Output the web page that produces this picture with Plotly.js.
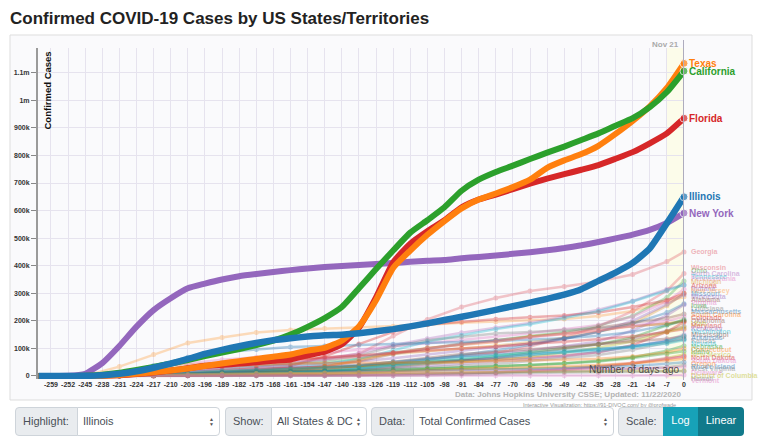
<!DOCTYPE html>
<html><head><meta charset="utf-8">
<script src="https://cdn.plot.ly/plotly-3.0.1.min.js"></script>
<style>
body{margin:0;background:#fff;}
#wrap{position:relative;width:760px;height:439px;overflow:hidden;}
#chart{position:absolute;left:0;top:0;width:760px;height:439px;}
.ctl{position:absolute;top:407px;height:29px;box-sizing:border-box;font-family:'Liberation Sans',Arial,sans-serif;font-size:11px;color:#495057;line-height:27px;white-space:nowrap;}
.lab{background:#e9ecef;border:1px solid #ced4da;border-radius:4px 0 0 4px;padding-left:7px;}
.sel{background:#fff;border:1px solid #ced4da;border-radius:0 4px 4px 0;padding-left:5px;}
.arr{position:absolute;right:5px;top:9px;font-size:5px;line-height:5px;color:#555;}
.btn{color:#fff;text-align:center;border:none;}
</style>
</head><body>
<div id="wrap">
<div id="chart"></div>
<div class="ctl lab" style="left:15px;width:63px;">Highlight:</div>
<div class="ctl sel" style="left:77px;width:143px;">Illinois<span class="arr">▲<br>▼</span></div>
<div class="ctl lab" style="left:225px;width:47px;">Show:</div>
<div class="ctl sel" style="left:271px;width:96px;">All States &amp; DC<span class="arr">▲<br>▼</span></div>
<div class="ctl lab" style="left:371px;width:43px;">Data:</div>
<div class="ctl sel" style="left:413px;width:201px;">Total Confirmed Cases<span class="arr">▲<br>▼</span></div>
<div class="ctl lab" style="left:618px;width:46px;">Scale:</div>
<div class="ctl btn" style="left:663px;width:35px;background:#17a2b8;">Log</div>
<div class="ctl btn" style="left:698px;width:46px;background:#117a8b;border-radius:0 4px 4px 0;">Linear</div>
</div>
<script>
// ---------- DATA (cases in thousands) ----------
const days = [-264,-259,-252,-245,-238,-231,-224,-217,-210,-203,-196,-189,-182,-175,-168,-161,-154,-147,-140,-133,-126,-119,-112,-105,-98,-91,-84,-77,-70,-63,-56,-49,-42,-35,-28,-21,-14,-7,0];
const texas      = [0,0,0,0.3,1,4,8,14,20,27,36,45,54,62,70,78,92,102,128,180,275,392,455,512,562,608,640,662,685,712,755,782,805,835,878,925,978,1045,1134];
const california = [0,0,0.3,1,5,12,22,33,45,58,72,85,98,112,128,150,178,210,250,318,388,455,520,565,612,672,712,740,763,787,810,832,856,880,908,935,975,1030,1106];
const florida    = [0,0,0,0.3,1,3,7,13,20,28,37,41,45,50,55,60,75,88,115,175,285,412,480,525,565,612,640,658,678,698,716,732,748,765,788,812,844,880,935];
const illinois   = [0,0,0,0.5,3,8,17,30,45,62,80,95,108,120,130,137,143,148,150,155,162,170,180,191,203,215,227,240,253,266,280,295,315,345,375,410,463,554,650];
const newYork    = [0,0,0.6,8,47,109,179,239,282,318,335,350,362,370,377,384,390,395,399,403,406,410,414,418,421,427,432,437,443,449,456,464,474,486,499,513,530,555,591];
const mainNames  = ['New York','Florida','Texas','California','Illinois'];
const mainSeries = [newYork, florida, texas, california, illinois];

const fadedDays = [-264,-245,-231,-217,-203,-189,-175,-161,-147,-133,-119,-105,-91,-77,-63,-49,-35,-21,-7,0];
const georgia      = [0,1,6,17,28,37,45,55,65,80,145,205,250,283,308,325,343,368,415,450];
const newJersey    = [0,1,34,78,120,140,158,167,172,175,180,186,193,197,201,207,218,236,270,287];
const wisconsin    = [0,0,2,4,8,12,18,23,28,36,48,62,73,84,107,140,180,235,310,372];
const ohio         = [0,0,3,12,19,27,35,41,50,63,85,100,114,130,145,160,182,218,285,345];
const michigan     = [0,1,14,31,42,50,56,59,63,70,80,90,99,110,122,138,160,190,255,300];
const northCarolina= [0,0,2,7,12,19,29,45,62,82,112,135,157,175,192,215,240,272,315,330];
const pennsylvania = [0,0,10,31,46,59,68,76,84,95,107,120,132,143,155,170,185,215,270,315];
const arizona      = [0,0,2,4,8,13,20,36,71,116,160,187,197,206,213,219,230,250,275,300];
const tennessee    = [0,0,3,6,11,17,24,32,43,62,93,125,148,170,188,210,235,270,310,330];
const indiana      = [0,0,3,11,20,28,35,40,45,53,64,78,91,105,118,135,160,200,260,295];
const missouri     = [0,0,2,5,8,11,13,17,21,30,43,59,76,93,113,135,160,190,230,262];
const minnesota    = [0,0,1,2,6,15,24,31,35,41,50,63,71,81,92,108,125,165,220,258];
const alabama      = [0,0,1,5,8,13,18,26,35,53,80,100,118,130,142,155,175,193,210,225];
const louisiana    = [0,0,13,23,29,33,39,46,56,74,107,130,143,154,160,167,175,180,190,200];
const massachusetts= [0,0,12,38,68,85,96,105,109,112,115,119,123,127,131,137,146,160,185,200];
const southCarolina= [0,0,2,4,6,8,11,18,34,58,83,102,113,123,143,152,165,180,190,198];
const colorado     = [0,0,5,10,16,22,26,29,32,36,44,51,56,61,66,74,86,112,160,196];
const virginia     = [0,0,2,8,17,31,43,55,62,70,84,100,114,127,140,153,165,182,200,215];
const iowa         = [0,0,1,3,10,15,19,24,29,35,44,52,60,73,87,100,115,140,185,205];
const oklahoma     = [0,0,1,3,4,5,6,8,13,21,33,44,55,66,82,98,115,133,163,180];
const maryland     = [0,0,4,13,25,36,49,61,68,74,84,93,100,106,117,124,133,143,160,170];
const utah         = [0,0,1,3,5,7,9,13,21,31,38,45,52,57,70,85,103,125,160,175];
const kentucky     = [0,0,1,2,5,8,10,13,16,21,28,36,44,53,62,72,87,106,130,150];
const mississippi  = [0,0,1,3,7,11,15,21,27,37,52,67,80,87,96,105,114,125,135,143];
const washington   = [0,1,7,12,15,18,21,25,31,39,51,62,72,77,84,90,98,107,125,145];
const arkansas     = [0,0,1,2,3,4,7,12,18,27,37,49,57,65,76,87,96,108,125,135];
const kansas       = [0,0,0,1,4,7,9,11,15,20,28,31,37,44,54,64,76,95,120,133];
const nevada       = [0,0,1,3,5,7,8,11,16,26,40,52,65,72,78,84,92,104,118,130];
const nebraska     = [0,0,0,1,5,10,13,16,18,20,24,27,30,35,40,46,55,68,92,110];
const connecticut  = [0,0,4,18,30,37,41,45,46,47,48,50,51,54,56,59,63,71,85,100];
const idaho        = [0,0,1,2,2,2,3,3,5,11,19,25,30,36,40,45,53,65,80,90];
const newMexico    = [0,0,1,2,3,6,8,10,12,14,18,22,24,26,27,30,35,45,65,78];
const northDakota  = [0,0,0,0,1,2,2,3,3,4,6,7,10,13,18,23,32,45,62,72];
const southDakota  = [0,0,0,1,2,4,5,6,6,7,8,9,11,14,19,26,35,48,64,70];
const oregon       = [0,0,1,1,2,3,4,5,7,11,16,21,25,28,31,35,40,46,55,63];
const rhodeIsland  = [0,0,1,5,9,12,15,16,16,17,19,20,22,23,25,28,31,36,44,50];
const westVirginia = [0,0,0,1,1,1,2,2,2,4,6,8,9,12,14,17,20,25,32,40];
const delaware     = [0,0,1,2,5,7,9,10,11,13,14,15,17,18,20,22,24,26,30,33];
const districtOfColumbia = [0,0,1,2,5,7,9,10,10,11,12,13,14,14,15,16,17,17,18,19];
const hawaii       = [0,0,0,0,1,1,1,1,1,1,1,3,6,9,11,13,14,15,16,17];
const vermont      = [0,0,0,1,1,1,1,1,1,1,1,2,2,2,2,2,2,2,3,4];

const fadedNames = ['Georgia','New Jersey','Wisconsin','Ohio','Michigan','North Carolina','Pennsylvania','Arizona','Tennessee','Indiana','Missouri','Minnesota','Alabama','Louisiana','Massachusetts','South Carolina','Colorado','Virginia','Iowa','Oklahoma','Maryland','Utah','Kentucky','Mississippi','Washington','Arkansas','Kansas','Nevada','Nebraska','Connecticut','Idaho','New Mexico','North Dakota','South Dakota','Oregon','Rhode Island','West Virginia','Delaware','District of Columbia','Hawaii','Vermont'];
const fadedSeries = [georgia,newJersey,wisconsin,ohio,michigan,northCarolina,pennsylvania,arizona,tennessee,indiana,missouri,minnesota,alabama,louisiana,massachusetts,southCarolina,colorado,virginia,iowa,oklahoma,maryland,utah,kentucky,mississippi,washington,arkansas,kansas,nevada,nebraska,connecticut,idaho,newMexico,northDakota,southDakota,oregon,rhodeIsland,westVirginia,delaware,districtOfColumbia,hawaii,vermont];

const xTickVals = [-259,-252,-245,-238,-231,-224,-217,-210,-203,-196,-189,-182,-175,-168,-161,-154,-147,-140,-133,-126,-119,-112,-105,-98,-91,-84,-77,-70,-63,-56,-49,-42,-35,-28,-21,-14,-7,0];
const xTickText = ['-259','-252','-245','-238','-231','-224','-217','-210','-203','-196','-189','-182','-175','-168','-161','-154','-147','-140','-133','-126','-119','-112','-105','-98','-91','-84','-77','-70','-63','-56','-49','-42','-35','-28','-21','-14','-7','0'];
const yTickVals = [0,100,200,300,400,500,600,700,800,900,1000,1100];
const yTickText = ['0','100k','200k','300k','400k','500k','600k','700k','800k','900k','1m','1.1m'];
const lastDayLabel = 'Nov 21';

// ---------- STYLE ----------
const mainColors = {'New York':'#9467bd','Florida':'#d62728','Texas':'#ff7f0e','California':'#2ca02c','Illinois':'#1f77b4'};
const fadedPalette = ['#e0606a','#ff9f40','#e35d6a','#4caf50','#e0a030','#b070c0','#e377c2','#d62728','#17becf','#9467bd','#1f77b4','#9467bd','#8c564b','#7f7f7f','#1f77b4','#ff7f0e','#d62728','#e377c2','#2ca02c','#8c564b','#d62728','#bcbd22','#9467bd','#8c564b','#17becf','#1f77b4','#7f7f7f','#17becf','#2ca02c','#ff7f0e','#2ca02c','#bcbd22','#d62728','#e377c2','#ff7f0e','#1f77b4','#7f7f7f','#e377c2','#bcbd22','#7f7f7f','#e377c2'];

const W=760,H=439, mL=38, mR=76, mT=48, mB=60;
const xRange=[-264.3,0], yRange=[-10.9,1189.7];
const plotH = H-mT-mB;
function yPx(v){return mT + (yRange[1]-v)/(yRange[1]-yRange[0])*plotH;}
function px(xp){return (xp-mL)/(W-mL-mR);}
function py(yp){return (H-mB-yp)/plotH;}

const traces=[];
fadedSeries.forEach((s,i)=>{
  traces.push({x:fadedDays,y:s,type:'scatter',mode:'lines+markers',opacity:0.35,
    line:{color:fadedPalette[i],width:2.5},marker:{color:fadedPalette[i],size:5},
    hoverinfo:'skip',showlegend:false,cliponaxis:false});
});
mainSeries.forEach((s,i)=>{
  const n=mainNames[i];
  traces.push({x:days,y:s,type:'scatter',mode:'lines+markers',
    line:{color:mainColors[n],width:n==='Illinois'?6.5:6,shape:'spline',smoothing:0.5},
    marker:{color:mainColors[n],size:s.map((v,k)=>k===s.length-1?8:0)},
    showlegend:false,cliponaxis:false});
});

const annotations=[];
mainSeries.forEach((s,i)=>{
  const n=mainNames[i];
  annotations.push({x:0,y:s[s.length-1],xref:'x',yref:'y',text:n,showarrow:false,xanchor:'left',yanchor:'middle',xshift:3,
    font:{size:10,weight:'bold',color:mainColors[n]}});
});
// faded labels: pack downward, then push back up so the last stays near the axis bottom
const order = fadedSeries.map((s,i)=>i).sort((a,b)=>fadedSeries[b][fadedSeries[b].length-1]-fadedSeries[a][fadedSeries[a].length-1]);
const gap=2.9, maxY=381;
const pos=order.map(i=>yPx(fadedSeries[i][fadedSeries[i].length-1]));
for(let k=1;k<pos.length;k++) pos[k]=Math.max(pos[k],pos[k-1]+gap);
pos[pos.length-1]=Math.min(pos[pos.length-1],maxY);
for(let k=pos.length-2;k>=0;k--) pos[k]=Math.min(pos[k],pos[k+1]-gap);
order.forEach((i,k)=>{
  const s=fadedSeries[i]; const v=s[s.length-1];
  const ideal=yPx(v);
  annotations.push({x:0,y:v,xref:'x',yref:'y',text:fadedNames[i],showarrow:false,xanchor:'left',yanchor:'middle',xshift:5,yshift:-(pos[k]-ideal),
    opacity:0.45,font:{size:7,weight:'bold',color:fadedPalette[i]}});
});
annotations.push({xref:'paper',yref:'paper',x:px(40),y:py(50),xanchor:'left',yanchor:'top',textangle:-90,text:'Confirmed Cases',showarrow:false,font:{size:9.5,weight:'bold',color:'#111'}});
annotations.push({xref:'paper',yref:'paper',x:px(681),y:py(369),xanchor:'right',yanchor:'middle',text:'Number of days ago',showarrow:false,font:{size:10,color:'rgba(50,50,50,0.85)'}});
annotations.push({xref:'paper',yref:'paper',x:px(683),y:py(394),xanchor:'right',yanchor:'middle',text:'Data: Johns Hopkins University CSSE; Updated: 11/22/2020',showarrow:false,font:{size:8,weight:'bold',color:'#b3b3b3'}});
annotations.push({xref:'paper',yref:'paper',x:px(682),y:py(405),xanchor:'right',yanchor:'middle',text:'Interactive Visualization: https://91-DIVOC.com/ by @profwade_',showarrow:false,font:{size:5.5,color:'#999'}});
annotations.push({xref:'x',yref:'paper',x:0,y:py(45),xanchor:'right',yanchor:'middle',xshift:-3,text:lastDayLabel,showarrow:false,font:{size:8,weight:'bold',color:'#aaa'}});

const shapes=[
  {type:'rect',xref:'paper',yref:'paper',x0:px(10),x1:px(752),y0:py(400),y1:py(35),fillcolor:'#fafafc',line:{color:'#dddddd',width:1},layer:'below'},
  {type:'rect',xref:'x',yref:'paper',x0:-7,x1:0,y0:0,y1:1,fillcolor:'rgba(255,255,200,0.35)',line:{width:0},layer:'below'},
  {type:'line',xref:'x',yref:'paper',x0:0,x1:0,y0:py(380),y1:py(40),line:{color:'#aeacbe',width:2},layer:'above'}
];

const layout={
  width:W,height:H,margin:{l:mL,r:mR,t:mT,b:mB},
  paper_bgcolor:'#ffffff',plot_bgcolor:'rgba(0,0,0,0)',
  font:{family:'"Liberation Sans", Arial, sans-serif',color:'#222'},
  title:{text:'Confirmed COVID-19 Cases by US States/Territories',xref:'container',yref:'container',x:10/W,xanchor:'left',y:1-18/H,yanchor:'middle',font:{size:17,weight:'bold',color:'#222'}},
  xaxis:{range:xRange,tickmode:'array',tickvals:xTickVals,ticktext:xTickText,showgrid:true,gridcolor:'#e6e3ee',gridwidth:1,zeroline:false,showline:false,ticks:'',tickfont:{size:7,weight:'bold',color:'#333'}},
  yaxis:{range:yRange,tickmode:'array',tickvals:yTickVals,ticktext:yTickText,showgrid:true,gridcolor:'#e6e3ee',gridwidth:1,zeroline:false,showline:true,linecolor:'#9a9a9a',linewidth:2,ticks:'outside',ticklen:5,tickcolor:'#888',tickfont:{size:7,weight:'bold',color:'#333'}},
  shapes:shapes,annotations:annotations,showlegend:false
};
Plotly.newPlot('chart',traces,layout,{displayModeBar:false,staticPlot:true});
</script>
</body></html>
